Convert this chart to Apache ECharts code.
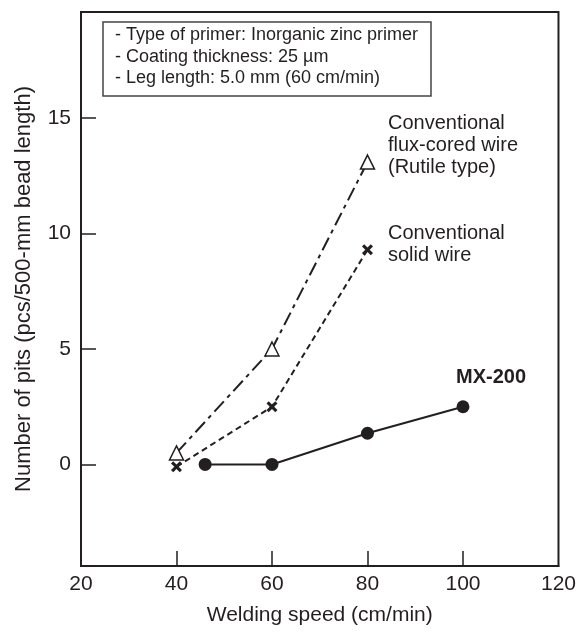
<!DOCTYPE html>
<html>
<head>
<meta charset="utf-8">
<script src="https://cdn.jsdelivr.net/npm/echarts@6/dist/echarts.min.js"></script>
<style>
  html, body { margin: 0; padding: 0; background: #fff; }
  #chart { width: 579px; height: 632px; }
</style>
</head>
<body>
<div id="chart"></div>
<script>
// data
const fluxSpeed = [40, 60, 80];
const fluxPits = [0.5, 5.0, 13.1];
const solidSpeed = [40, 60, 80];
const solidPits = [-0.1, 2.5, 9.3];
const mxSpeed = [46, 60, 80, 100];
const mxPits = [0, 0, 1.35, 2.5];
const xTickLabels = [20, 40, 60, 80, 100, 120];
const xTickMarks = [40, 60, 80, 100];
const yTickLabels = [0, 5, 10, 15];
const noteLines = [
  '- Type of primer: Inorganic zinc primer',
  '- Coating thickness: 25 µm',
  '- Leg length: 5.0 mm (60 cm/min)'
];

const ink = '#231f20';
const font = '"Liberation Sans", Arial, sans-serif';

function pairs(xs, ys) {
  return xs.map(function (x, i) { return [x, ys[i]]; });
}

const cross = 'path://M0,2L2,0L5,3L8,0L10,2L7,5L10,8L8,10L5,7L2,10L0,8L3,5Z';

let chart = echarts.init(document.getElementById('chart'));

chart.setOption({
  animation: false,
  backgroundColor: '#fff',
  textStyle: { fontFamily: font },
  grid: {
    left: 81, right: 17, top: 12, bottom: 66,
    show: true,
    borderColor: ink,
    borderWidth: 2
  },
  xAxis: {
    type: 'value',
    min: 20, max: 120, interval: 20,
    name: 'Welding speed (cm/min)',
    nameLocation: 'middle',
    nameGap: 39,
    nameTextStyle: { fontSize: 21, color: ink, fontFamily: font },
    axisLine: { onZero: false, lineStyle: { color: ink, width: 2 } },
    axisTick: { inside: true, length: 15, customValues: xTickMarks, lineStyle: { color: ink, width: 1.5 } },
    axisLabel: { customValues: xTickLabels, fontSize: 21, color: ink, margin: 8, fontFamily: font },
    splitLine: { show: false }
  },
  yAxis: {
    type: 'value',
    min: -4.4, max: 19.6,
    name: 'Number of pits (pcs/500-mm bead length)',
    nameLocation: 'middle',
    nameGap: 46,
    nameTextStyle: { fontSize: 22, color: ink, fontFamily: font },
    axisLine: { onZero: false, lineStyle: { color: ink, width: 2 } },
    axisTick: { inside: true, length: 15, customValues: yTickLabels, lineStyle: { color: ink, width: 1.5 } },
    axisLabel: { customValues: yTickLabels, fontSize: 21, color: ink, margin: 10, fontFamily: font },
    splitLine: { show: false }
  },
  graphic: [
    {
      type: 'rect',
      shape: { x: 103, y: 22, width: 328, height: 74 },
      style: { fill: '#fff', stroke: '#444', lineWidth: 1.5 }
    },
    {
      type: 'text',
      left: 115, top: 24,
      style: { text: noteLines.join('\n'), font: '18px ' + font, fill: ink, lineHeight: 21.7 }
    },
    {
      type: 'text',
      left: 388, top: 112,
      style: { text: 'Conventional\nflux-cored wire\n(Rutile type)', font: '20px ' + font, fill: ink, lineHeight: 22 }
    },
    {
      type: 'text',
      left: 388, top: 222,
      style: { text: 'Conventional\nsolid wire', font: '20px ' + font, fill: ink, lineHeight: 22 }
    },
    {
      type: 'text',
      left: 456, top: 367,
      style: { text: 'MX-200', font: 'bold 20px ' + font, fill: ink }
    }
  ],
  series: [
    {
      name: 'flux-cored',
      type: 'line',
      data: pairs(fluxSpeed, fluxPits),
      symbol: 'triangle',
      symbolSize: 14,
      lineStyle: { color: ink, width: 2, type: [14, 5, 4, 5] },
      itemStyle: { color: '#fff', borderColor: ink, borderWidth: 1.5 },
      z: 3
    },
    {
      name: 'solid',
      type: 'line',
      data: pairs(solidSpeed, solidPits),
      symbol: cross,
      symbolSize: 11,
      lineStyle: { color: ink, width: 2, type: [6, 4] },
      itemStyle: { color: ink },
      z: 3
    },
    {
      name: 'MX-200',
      type: 'line',
      data: pairs(mxSpeed, mxPits),
      symbol: 'circle',
      symbolSize: 13,
      lineStyle: { color: ink, width: 2 },
      itemStyle: { color: ink },
      z: 4
    }
  ]
});
</script>
</body>
</html>
